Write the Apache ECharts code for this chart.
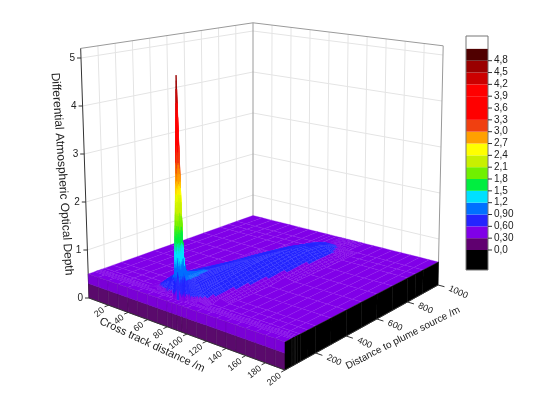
<!DOCTYPE html>
<html><head><meta charset="utf-8">
<script src="https://cdn.jsdelivr.net/npm/echarts@6/dist/echarts.min.js"></script>
<style>html,body{margin:0;padding:0;background:#fff}#c{width:540px;height:413px}</style>
</head><body><div id="c"></div>
<script>
const crossTrack = [0,10,20,30,40,50,60,70,80,85,90,95,100,110,120,130,140,150,160,170,180,190,200];
const distances = [0,40,50,52,55,60,70,80,100,150,200,300,400,500,600,700,800,850,900,1000];
const depthRows = [
 [.5,.5,.5,.5,.5,.5,.5,.5,.5,.5,.5,.5,.5,.5,.5,.5,.5,.5,.5,.5,.5,.5,.5],
 [.5,.5,.5,.5,.5,.5,.5,.5,.5,.5,.5,.5,.5,.5,.5,.5,.5,.5,.5,.5,.5,.5,.5],
 [.5,.5,.5,.5,.5,.5,.5,.5,.5,4.9,.5,.5,.5,.5,.5,.5,.5,.5,.5,.5,.5,.5,.5],
 [.5,.5,.5,.5,.5,.5,.5,.5,.9,3.2,.9,.5,.5,.5,.5,.5,.5,.5,.5,.5,.5,.5,.5],
 [.5,.5,.5,.5,.5,.5,.5,.55,1.0,2.3,1.0,.55,.5,.5,.5,.5,.5,.5,.5,.5,.5,.5,.5],
 [.5,.5,.5,.5,.5,.5,.5,.62,1.0,1.7,1.0,.62,.5,.5,.5,.5,.5,.5,.5,.5,.5,.5,.5],
 [.5,.5,.5,.5,.5,.5,.55,.75,.95,1.3,.95,.75,.55,.5,.5,.5,.5,.5,.5,.5,.5,.5,.5],
 [.5,.5,.5,.5,.5,.5,.6,.8,.92,1.1,.92,.8,.6,.5,.5,.5,.5,.5,.5,.5,.5,.5,.5],
 [.5,.5,.5,.5,.5,.5,.62,.82,.9,.98,.92,.85,.65,.5,.5,.5,.5,.5,.5,.5,.5,.5,.5],
 [.5,.5,.5,.5,.5,.5,.6,.8,.88,.92,.9,.86,.7,.55,.5,.5,.5,.5,.5,.5,.5,.5,.5],
 [.5,.5,.5,.5,.5,.5,.58,.78,.86,.9,.9,.86,.72,.56,.5,.5,.5,.5,.5,.5,.5,.5,.5],
 [.5,.5,.5,.5,.5,.5,.55,.72,.8,.86,.88,.87,.76,.6,.5,.5,.5,.5,.5,.5,.5,.5,.5],
 [.5,.5,.5,.5,.5,.5,.53,.66,.75,.82,.86,.87,.8,.64,.5,.5,.5,.5,.5,.5,.5,.5,.5],
 [.5,.5,.5,.5,.5,.5,.5,.6,.7,.78,.83,.86,.82,.68,.54,.5,.5,.5,.5,.5,.5,.5,.5],
 [.5,.5,.5,.5,.5,.5,.5,.56,.64,.72,.78,.82,.82,.72,.57,.5,.5,.5,.5,.5,.5,.5,.5],
 [.5,.5,.5,.5,.5,.5,.5,.5,.58,.65,.72,.76,.79,.74,.6,.5,.5,.5,.5,.5,.5,.5,.5],
 [.5,.5,.5,.5,.5,.5,.5,.5,.5,.57,.62,.67,.72,.7,.6,.5,.5,.5,.5,.5,.5,.5,.5],
 [.5,.5,.5,.5,.5,.5,.5,.5,.5,.5,.5,.6,.65,.64,.56,.5,.5,.5,.5,.5,.5,.5,.5],
 [.5,.5,.5,.5,.5,.5,.5,.5,.5,.5,.5,.5,.57,.57,.5,.5,.5,.5,.5,.5,.5,.5,.5],
 [.5,.5,.5,.5,.5,.5,.5,.5,.5,.5,.5,.5,.5,.5,.5,.5,.5,.5,.5,.5,.5,.5,.5]
];
const levelLabels = ['0,0','0,30','0,60','0,90','1,2','1,5','1,8','2,1','2,4','2,7','3,0','3,3','3,6','3,9','4,2','4,5','4,8'];
const levels = [0,0.3,0.6,0.9,1.2,1.5,1.8,2.1,2.4,2.7,3.0,3.3,3.6,3.9,4.2,4.5,4.8];
const bandColors = ['#000000','#600070','#8000e8','#2424ff','#0070ff','#00e0ff','#00ee40','#70f000','#c8f000','#ffff00','#ffa000','#f04010','#ff0000','#ff0000','#ff0000','#cc0000','#9a0000','#500000'];
const zTicks = [0,1,2,3,4,5];
const crossTicks = [20,40,60,80,100,120,140,160,180,200];
const distTicks = [200,400,600,800,1000];

function colorOf(v){let i=0;while(i<levels.length&&v>=levels[i])i++;return bandColors[i];}
const CL=[89,298],CF=[285,370],CR=[438,285],CB=[253,236];
const ZS={L:48,F:56,R:46,B:41};
const ZX={L:-1.6,F:0,R:1.0,B:0};
function P(c,d,z){
  const u=c/200,v=d/1000;
  const wL=(1-u)*(1-v),wF=u*(1-v),wR=u*v,wB=(1-u)*v;
  const x=CL[0]*wL+CF[0]*wF+CR[0]*wR+CB[0]*wB;
  const y=CL[1]*wL+CF[1]*wF+CR[1]*wR+CB[1]*wB;
  const zs=ZS.L*wL+ZS.F*wF+ZS.R*wR+ZS.B*wB;
  const zx=ZX.L*wL+ZX.F*wF+ZX.R*wR+ZX.B*wB;
  return [x+z*zx,y-z*zs];
}
const ZMAX=5.2;
const F=(s)=>s+'px "Liberation Sans", Arial, sans-serif';

function render(params,api){
  const pt=(c,d,z)=>api.coord(P(c,d,z));
  const ch=[];
  const line=(a,b,col,w)=>ch.push({type:'line',shape:{x1:a[0],y1:a[1],x2:b[0],y2:b[1]},style:{stroke:col,lineWidth:w||1}});
  const txt=(p,t,opt)=>ch.push({type:'text',x:p[0],y:p[1],rotation:(opt.rot||0)*Math.PI/180,style:{text:t,fill:'#222',font:opt.font||F(11),textAlign:opt.align||'center',textVerticalAlign:'middle',verticalAlign:'middle'}});
  const grid='#e4e4e4';
  for(let z=1;z<=5;z++){line(pt(0,0,z),pt(0,1000,z),grid);line(pt(0,1000,z),pt(200,1000,z),grid);}
  for(let d=100;d<1000;d+=100)line(pt(0,d,0),pt(0,d,ZMAX),grid);
  for(let c=20;c<200;c+=20)line(pt(c,1000,0),pt(c,1000,ZMAX),grid);
  const edge='#9a9a9a';
  line(pt(0,1000,0),pt(0,1000,ZMAX),edge);
  line(pt(200,1000,0),pt(200,1000,ZMAX),edge);
  line(pt(0,0,ZMAX),pt(0,1000,ZMAX),edge);
  line(pt(0,1000,ZMAX),pt(200,1000,ZMAX),edge);
  line(pt(0,0,0),pt(0,0,ZMAX),'#333');
  const polys=[];
  for(let j=0;j<distances.length-1;j++){
    for(let i=0;i<crossTrack.length-1;i++){
      const c0=crossTrack[i],c1=crossTrack[i+1],d0=distances[j],d1=distances[j+1];
      const z00=depthRows[j][i],z10=depthRows[j][i+1],z01=depthRows[j+1][i],z11=depthRows[j+1][i+1];
      const mx=Math.max(z00,z10,z01,z11);
      const n=mx>1.5?16:(mx>0.55?4:1);
      const Z=(a,b)=>z00*(1-a)*(1-b)+z10*a*(1-b)+z01*(1-a)*b+z11*a*b;
      for(let q=0;q<n;q++)for(let p=0;p<n;p++){
        const a0=p/n,a1=(p+1)/n,b0=q/n,b1=(q+1)/n;
        const C=(a)=>c0+(c1-c0)*a,D=(b)=>d0+(d1-d0)*b;
        const v00=Z(a0,b0),v10=Z(a1,b0),v11=Z(a1,b1),v01=Z(a0,b1);
        const avg=(v00+v10+v11+v01)/4;
        const cc=(C(a0)+C(a1))/2,dd=(D(b0)+D(b1))/2;
        const depth=(1-cc/200)+dd/1000;
        const pts=[pt(C(a0),D(b0),v00),pt(C(a1),D(b0),v10),pt(C(a1),D(b1),v11),pt(C(a0),D(b1),v01)];
        const lines=[];
        if(q===0&&d0%50===0)lines.push([pts[0],pts[1]]);
        if(p===n-1&&c1%10===0)lines.push([pts[1],pts[2]]);
        polys.push({depth,pts,col:colorOf(avg),lines});
      }
    }
  }
  polys.sort((a,b)=>b.depth-a.depth);
  for(const p of polys){
    ch.push({type:'polygon',shape:{points:p.pts},style:{fill:p.col,stroke:p.col,lineWidth:0.3}});
    for(const l of p.lines)line(l[0],l[1],'rgba(255,255,255,0.2)',0.5);
  }
  for(let i=0;i<crossTrack.length-1;i++){
    const c0=crossTrack[i],c1=crossTrack[i+1],za=depthRows[0][i],zb=depthRows[0][i+1];
    ch.push({type:'polygon',shape:{points:[pt(c0,0,0),pt(c1,0,0),pt(c1,0,0.3),pt(c0,0,0.3)]},style:{fill:'#5a0a6c',stroke:'#4a0a5a',lineWidth:0.5}});
    ch.push({type:'polygon',shape:{points:[pt(c0,0,0.3),pt(c1,0,0.3),pt(c1,0,zb),pt(c0,0,za)]},style:{fill:'#7a00d6',stroke:'#6a00b8',lineWidth:0.5}});
  }
  for(let j=0;j<distances.length-1;j++){
    const d0=distances[j],d1=distances[j+1];
    ch.push({type:'polygon',shape:{points:[pt(200,d0,0),pt(200,d1,0),pt(200,d1,depthRows[j+1][22]),pt(200,d0,depthRows[j][22])]},style:{fill:'#000',stroke:'#000',lineWidth:0.5}});
  }
  line(pt(0,0,0),pt(200,0,0),'#333');
  line(pt(200,0,0),pt(200,1000,0),'#333');
  for(const z of zTicks){const a=pt(0,0,z);line(a,[a[0]-4,a[1]],'#333');txt([a[0]-6,a[1]],String(z),{align:'right',font:F(10)});}
  for(const c of crossTicks){const a=pt(c,0,0),b=pt(c,-25,0);line(a,b,'#333');const e=pt(c,-32,0);txt([e[0],e[1]+2],String(c),{rot:38,align:'right',font:F(9)});}
  for(const d of distTicks){const a=pt(200,d,0),b=pt(207,d,0);line(a,b,'#333');txt(pt(212,d,0),String(d),{rot:-25,align:'left',font:F(9)});}
  txt([152,345],'Cross track distance /m',{rot:-25,font:F(11)});
  txt([403,338],'Distance to plume source /m',{rot:27,font:F(10)});
  txt([62,174],'Differential Atmospheric Optical Depth',{rot:-86,font:F(12)});
  const lx=466,lw=22,top=36,y48=60.7,y0=250,step=(y0-y48)/16;
  const yOf=(k)=>y0-k*step;
  ch.push({type:'rect',shape:{x:lx,y:top,width:lw,height:y48-step-top},style:{fill:'#fff'}});
  for(let k=0;k<bandColors.length;k++){
    const yb=k===0?270:yOf(k-1), yt=k===bandColors.length-1?y48-step:yOf(k);
    ch.push({type:'rect',shape:{x:lx,y:yt,width:lw,height:yb-yt},style:{fill:bandColors[k]}});
  }
  ch.push({type:'rect',shape:{x:lx,y:top,width:lw,height:270-top},style:{fill:'none',stroke:'#777',lineWidth:1}});
  for(let k=0;k<levels.length;k++){const y=yOf(k);line([lx+lw,y],[lx+lw+4,y],'#333');txt([lx+lw+6,y],levelLabels[k],{align:'left',font:F(10)});}
  return {type:'group',children:ch};
}
const chart=echarts.init(document.getElementById('c'));
chart.setOption({
  animation:false,
  grid:{left:0,right:0,top:0,bottom:0},
  xAxis:{type:'value',min:0,max:540,show:false},
  yAxis:{type:'value',min:0,max:413,inverse:true,show:false},
  series:[{type:'custom',renderItem:render,data:[[0,0]],clip:false,silent:true}]
});
</script></body></html>
